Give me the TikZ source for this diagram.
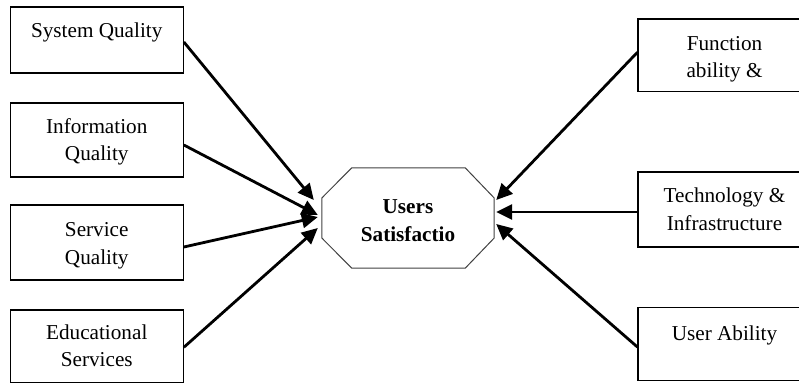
\documentclass[tikz,border=0pt]{standalone}
\usepackage{fontspec}
\setmainfont{Liberation Serif}
\usetikzlibrary{arrows.meta,calc}
\begin{document}
\begin{tikzpicture}[x=1pt,y=-1pt,
  box/.style={draw,line width=1.2pt,minimum width=173pt,inner sep=0pt},
  txt/.style={font=\fontsize{21.2}{27.4}\selectfont,anchor=base,inner sep=0pt,align=center},
  btxt/.style={txt,font=\fontsize{21.2}{27.6}\selectfont\bfseries},
  octline/.style={draw=black!75,line width=1pt},
  arr/.style={line width=2.8pt,-{Triangle[length=16pt,width=15pt]}}]
\useasboundingbox (0,0) rectangle (799,385);
\clip (0,0) rectangle (799,385);
% left boxes
\node[box,minimum height=66pt] (b1) at (96.75,40) {};
\node[box,minimum height=74pt] (b2) at (96.75,140) {};
\node[box,minimum height=75pt] (b3) at (96.75,242.5) {};
\node[box,minimum height=72.7pt] (b4) at (96.75,346.3) {};
% right boxes
\node[box,minimum height=72.7pt] (r1) at (724.5,55.3) {};
\node[box,minimum height=75pt] (r2) at (724.5,209.5) {};
\node[box,minimum height=73.4pt] (r3) at (724.5,344) {};
% texts (base anchor = last line's baseline)
\node[txt] (t1) at (96.75,37.5) {System Quality};
\node[txt] (t2) at (96.75,160.5) {Information\\Quality};
\node[txt] (t3) at (96.75,264) {Service\\Quality};
\node[txt] (t4) at (96.75,366.7) {Educational\\Services};
\node[txt] (u1) at (724.5,77.5) {Function\\ability \&};
\node[txt] (u2) at (724.5,230) {Technology \&\\Infrastructure};
\node[txt] (u3) at (724.5,340) {User Ability};
% octagon
\node[minimum width=172pt,minimum height=100pt,inner sep=0pt] (oct) at (408,218) {};
\draw[octline] ($(oct.west)+(0,-20)$) -- ($(oct.north west)+(30,0)$) -- ($(oct.north east)+(-29,0)$)
  -- ($(oct.east)+(0,-20)$) -- ($(oct.east)+(0,20)$) -- ($(oct.south east)+(-29,0)$)
  -- ($(oct.south west)+(30,0)$) -- ($(oct.west)+(0,20)$) -- cycle;
\node[btxt] (ot) at (408,241) {Users\\Satisfactio};
% arrows
\draw[arr] ($(b1.east)+(0,2)$) -- ($(oct.west)+(-8,-18)$);
\draw[arr] ($(b2.east)+(0,5)$) -- ($(oct.west)+(-4,-3)$);
\draw[arr] ($(b3.east)+(0,4.5)$) -- ($(oct.west)+(-4,-1)$);
\draw[arr] ($(b4.east)+(0,1)$) -- ($(oct.west)+(-4,10)$);
\draw[arr] ($(r1.west)+(0,-3)$) -- ($(oct.east)+(2,-18)$);
\draw[arr] ($(r2.west)+(0,2.5)$) -- ($(oct.east)+(2,-6)$);
\draw[arr] ($(r3.west)+(0,3)$) -- ($(oct.east)+(2,6)$);
\end{tikzpicture}
\end{document}
